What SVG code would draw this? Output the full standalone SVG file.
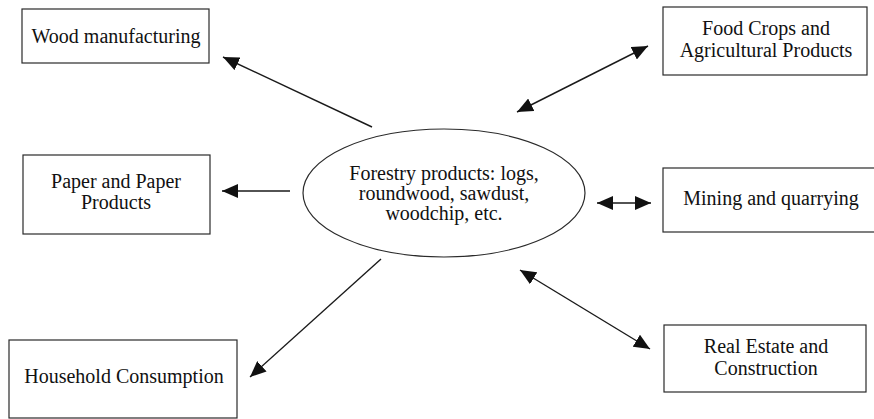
<svg xmlns="http://www.w3.org/2000/svg" width="874" height="419" viewBox="0 0 874 419">
<style>
.box{fill:none;stroke:#2a2a2a;stroke-width:1.2}
.t{font-family:"Liberation Serif","Times New Roman",serif;font-size:20px;fill:#111;text-anchor:middle}
.c{stroke:#1a1a1a;stroke-width:1.4;fill:none}
</style>
<defs>
<marker id="ah" markerUnits="userSpaceOnUse" markerWidth="17" markerHeight="14" refX="16" refY="7" orient="auto-start-reverse" viewBox="0 0 17 14">
<path d="M0,0 L16,7 L0,14 z" fill="#111"/>
</marker>
</defs>
<rect width="874" height="419" fill="#fff"/>
<g id="wood"><rect class="box" x="22" y="9" width="187" height="54"/><text class="t" x="116" y="43">Wood manufacturing</text></g>
<g id="food"><rect class="box" x="663" y="7" width="204" height="68"/><text class="t" x="766" y="35">Food Crops and</text><text class="t" x="766" y="57">Agricultural Products</text></g>
<g id="paper"><rect class="box" x="23" y="155" width="187" height="79"/><text class="t" x="116" y="188">Paper and Paper</text><text class="t" x="116" y="209">Products</text></g>
<g id="forestry"><ellipse cx="444" cy="193" rx="141" ry="64" fill="none" stroke="#2a2a2a" stroke-width="1.2"/><text class="t" x="444" y="180">Forestry products: logs,</text><text class="t" x="444" y="200">roundwood, sawdust,</text><text class="t" x="444" y="220">woodchip, etc.</text></g>
<g id="mining"><rect class="box" x="663" y="168" width="220" height="64"/><text class="t" x="771" y="205">Mining and quarrying</text></g>
<g id="household"><rect class="box" x="9" y="340" width="228" height="78"/><text class="t" x="124" y="383">Household Consumption</text></g>
<g id="realestate"><rect class="box" x="664" y="325" width="202" height="67"/><text class="t" x="766" y="353">Real Estate and</text><text class="t" x="766" y="375">Construction</text></g>
<g id="connectors">
<line class="c" x1="372" y1="127" x2="223" y2="57" marker-end="url(#ah)"/>
<line class="c" x1="517" y1="112" x2="648" y2="46" marker-start="url(#ah)" marker-end="url(#ah)"/>
<line class="c" x1="290" y1="191" x2="222" y2="191" marker-end="url(#ah)"/>
<line class="c" x1="597" y1="203" x2="651" y2="203" marker-start="url(#ah)" marker-end="url(#ah)"/>
<line class="c" x1="381" y1="259" x2="250" y2="377" marker-end="url(#ah)"/>
<line class="c" x1="520" y1="270" x2="650" y2="349" marker-start="url(#ah)" marker-end="url(#ah)"/>
</g>
</svg>
